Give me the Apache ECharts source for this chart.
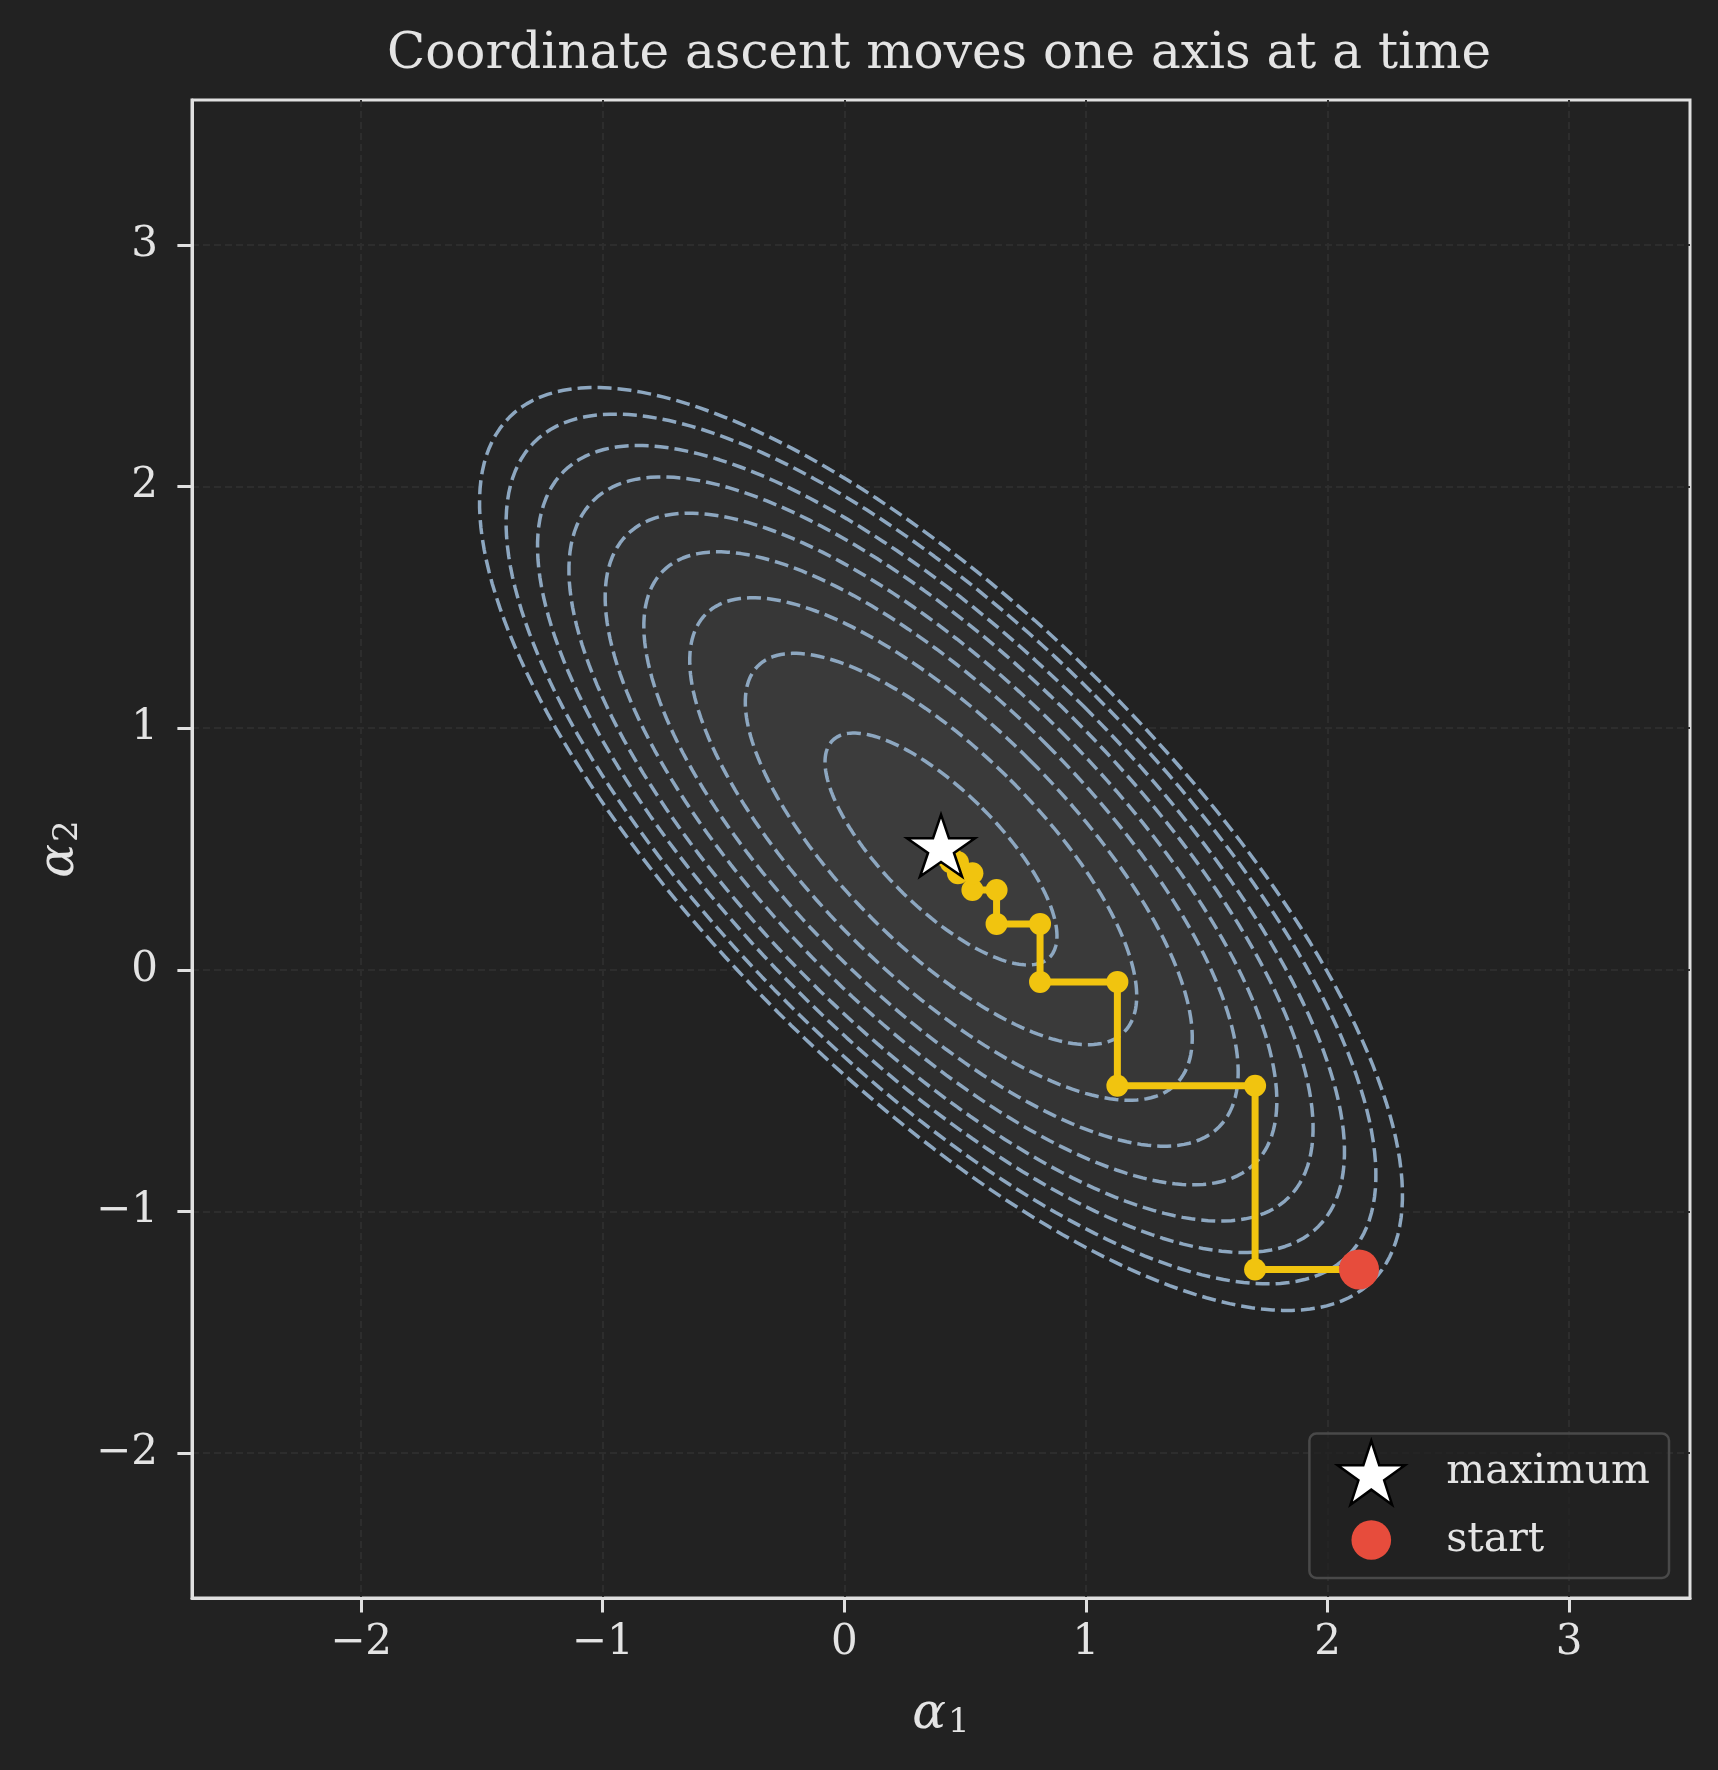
<!DOCTYPE html>
<html>
<head>
<meta charset="utf-8">
<script src="https://cdn.jsdelivr.net/npm/echarts@6/dist/echarts.min.js"></script>
<style>
  html, body { margin: 0; padding: 0; background: #222222; }
  #chart { width: 1718px; height: 1770px; }
</style>
</head>
<body>
<div id="chart"></div>
<script>
// values
const xRange = [-2.7, 3.5];
const yRange = [-2.6, 3.6];
const xTicks = [-2, -1, 0, 1, 2, 3];
const yTicks = [-2, -1, 0, 1, 2, 3];

const peak = [0.40, 0.50];            // the star
const start = [2.13, -1.24];          // the red dot
const coupling = 0.75;                // step ratio of the staircase (off-diagonal / diagonal)

// highest point (alpha2) of each dashed contour, outer -> inner
const contourTopY = [2.41, 2.30, 2.17, 2.04, 1.89, 1.73, 1.54, 1.31, 0.98];

// coordinate ascent path
const pathX = [2.13, 1.70, 1.70, 1.13, 1.13, 0.81, 0.81, 0.63, 0.63, 0.53, 0.53, 0.47, 0.47, 0.44, 0.44, 0.42];
const pathY = [-1.24, -1.24, -0.48, -0.48, -0.05, -0.05, 0.19, 0.19, 0.33, 0.33, 0.40, 0.40, 0.445, 0.445, 0.47, 0.47];

// styles
const bandFill = ['#252525', '#282828', '#2b2b2b', '#2e2e2e', '#313131', '#343434', '#373737', '#3a3a3a', '#3c3c3c'];
const font = 'DejaVu Serif';
const fg = '#e4e4e4';

function starPath() {
    let d = '';
    for (let i = 0; i < 10; i++) {
        const r = i % 2 === 0 ? 100 : 38.2;
        const a = i * Math.PI / 5;
        const x = (Math.sin(a) * r).toFixed(2);
        const y = (-Math.cos(a) * r).toFixed(2);
        d += (i === 0 ? 'M' : 'L') + x + ' ' + y + ' ';
    }
    return 'path://' + d + 'Z';
}
const STAR = starPath();
// circle with empty margin so the legend dot is smaller than the star
const DOT = 'path://M0 0 M100 100 M81 50 A31 31 0 1 1 19 50 A31 31 0 1 1 81 50 Z';

// level curve of the quadratic through the given top point
function ring(topY) {
    const h = topY - peak[1];
    const k = h * h * (1 - coupling * coupling);
    const a = Math.sqrt(k / (1 + coupling));
    const b = Math.sqrt(k / (1 - coupling));
    const pts = [];
    for (let i = 0; i <= 200; i++) {
        const t = 2 * Math.PI * i / 200;
        const s = a * Math.cos(t), q = b * Math.sin(t);
        pts.push([peak[0] + (s + q) / Math.SQRT2, peak[1] + (s - q) / Math.SQRT2]);
    }
    return pts;
}
const rings = contourTopY.map(ring);

function fmt(v) {
    return v < 0 ? '\u2212' + Math.abs(v) : String(v);
}

const chart = echarts.init(document.getElementById('chart'), null, { renderer: 'canvas' });

const contourSeries = rings.map(function (pts, i) {
    return {
        name: 'contour' + i,
        type: 'line',
        data: pts,
        showSymbol: false,
        symbol: 'none',
        smooth: false,
        silent: true,
        z: 3,
        lineStyle: { color: '#8da7c0', width: 3.5, type: [14, 6], opacity: 1 }
    };
});

chart.setOption({
    animation: false,
    backgroundColor: '#222222',
    title: {
        text: 'Coordinate ascent moves one axis at a time',
        left: 934,
        textAlign: 'center',
        top: 25,
        textStyle: { fontFamily: font, fontSize: 50, fontWeight: 'normal', color: fg }
    },
    grid: {
        left: 192, right: 28, top: 100, bottom: 172,
        outerBoundsMode: 'none',
        show: true,
        backgroundColor: '#222222',
        borderColor: '#e0e0e0',
        borderWidth: 3
    },
    legend: {
        orient: 'vertical',
        right: 49,
        bottom: 192,
        padding: [6, 19, 6, 27],
        itemWidth: 70,
        itemHeight: 64,
        itemGap: 2,
        backgroundColor: 'rgba(34,34,34,0.8)',
        borderColor: '#494949',
        borderWidth: 2.5,
        borderRadius: 7,
        textStyle: { fontFamily: font, fontSize: 41, color: fg, padding: [0, 0, 0, 35] },
        data: [
            { name: 'maximum', icon: STAR, itemStyle: { color: '#ffffff', borderColor: '#000000', borderWidth: 2.5, opacity: 1 } },
            { name: 'start', icon: DOT, itemStyle: { color: '#e74c3c', borderWidth: 0, opacity: 1 } }
        ]
    },
    xAxis: {
        type: 'value',
        min: xRange[0], max: xRange[1],
        minInterval: 1, maxInterval: 1,
        name: '{a|α}{s|1}',
        nameLocation: 'middle',
        nameGap: 92,
        nameTextStyle: {
            rich: {
                a: { fontFamily: font, fontStyle: 'italic', fontSize: 50, color: fg },
                s: { fontFamily: font, fontSize: 34, color: fg, padding: [16, 0, 0, 2] }
            }
        },
        axisLine: { show: true, onZero: false, lineStyle: { color: '#e0e0e0', width: 3 } },
        axisTick: { show: true, length: 14.6, customValues: xTicks, lineStyle: { color: '#e0e0e0', width: 3 } },
        axisLabel: {
            customValues: xTicks, margin: 24, formatter: fmt,
            fontFamily: font, fontSize: 42, color: fg
        },
        splitLine: { show: true, lineStyle: { color: '#2d2d2d', width: 2, type: [7, 4] } }
    },
    yAxis: {
        type: 'value',
        min: yRange[0], max: yRange[1],
        minInterval: 1, maxInterval: 1,
        name: '{a|α}{s|2}',
        nameLocation: 'middle',
        nameRotate: 90,
        nameGap: 98,
        nameTextStyle: {
            rich: {
                a: { fontFamily: font, fontStyle: 'italic', fontSize: 50, color: fg },
                s: { fontFamily: font, fontSize: 34, color: fg, padding: [16, 0, 0, 2] }
            }
        },
        axisLine: { show: true, onZero: false, lineStyle: { color: '#e0e0e0', width: 3 } },
        axisTick: { show: true, length: 14.6, customValues: yTicks, lineStyle: { color: '#e0e0e0', width: 3 } },
        axisLabel: {
            customValues: yTicks, margin: 34, formatter: fmt,
            fontFamily: font, fontSize: 42, color: fg
        },
        splitLine: { show: true, lineStyle: { color: '#2d2d2d', width: 2, type: [7, 4] } }
    },
    series: [
        {
            name: 'fill',
            type: 'custom',
            silent: true,
            z: 2,
            data: rings.map(function (r, i) { return [peak[0], peak[1], i]; }),
            renderItem: function (params, api) {
                const i = params.dataIndex;
                return {
                    type: 'polygon',
                    shape: { points: rings[i].map(function (p) { return api.coord(p); }) },
                    style: { fill: bandFill[i] }
                };
            }
        }
    ].concat(contourSeries).concat([
        {
            name: 'path',
            type: 'line',
            z: 5,
            data: pathX.map(function (x, i) { return [x, pathY[i]]; }),
            symbol: 'circle',
            symbolSize: 22,
            showSymbol: true,
            itemStyle: { color: '#f1c40f', opacity: 1 },
            lineStyle: { color: '#f1c40f', width: 7, opacity: 1 }
        },
        {
            name: 'start',
            type: 'scatter',
            z: 6,
            data: [start],
            symbol: 'circle',
            symbolSize: 40,
            itemStyle: { color: '#e74c3c', opacity: 1 }
        },
        {
            name: 'maximum',
            type: 'scatter',
            z: 7,
            data: [peak],
            symbol: STAR,
            symbolKeepAspect: true,
            symbolSize: [68, 65],
            symbolOffset: [0, -3.4],
            itemStyle: { color: '#ffffff', borderColor: '#000000', borderWidth: 2.5, opacity: 1 }
        }
    ])
});
</script>
</body>
</html>
